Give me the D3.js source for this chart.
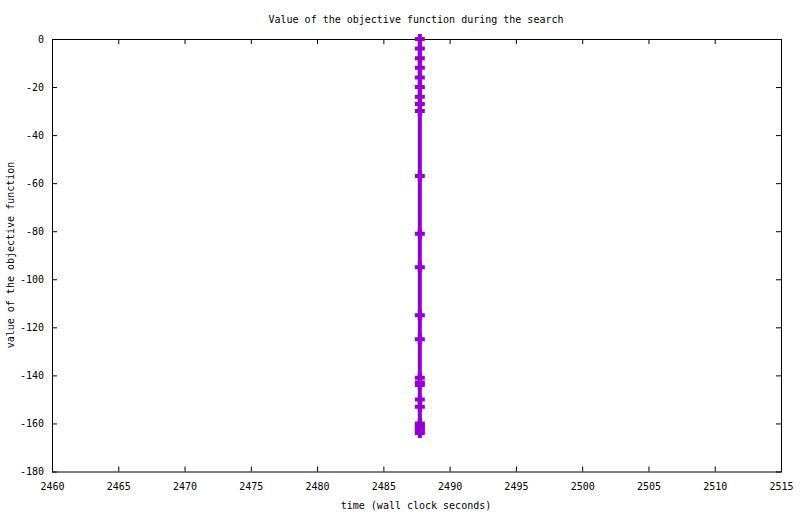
<!DOCTYPE html>
<html>
<head>
<meta charset="utf-8">
<script src="https://cdn.jsdelivr.net/npm/d3@7"></script>
<style>
  body { margin: 0; background: #fff; }
  svg text { font-family: "DejaVu Sans Mono", monospace; font-size: 10px; fill: #000; }
</style>
</head>
<body>
<script>
// data: one search run, all points logged at the same wall clock time
const runTime = 2487.75;
const objValues = [0, -4, -8, -12, -16, -20, -24, -27, -30, -57, -81, -95,
  -115, -125, -141, -143, -144, -150, -153, -160, -161, -162, -163, -164];
const xTicks = [2460, 2465, 2470, 2475, 2480, 2485, 2490, 2495, 2500, 2505, 2510, 2515];
const yTicks = [0, -20, -40, -60, -80, -100, -120, -140, -160, -180];

const width = 800;
const height = 514;
const pLeft = 52, pRight = 781, pTop = 39, pBottom = 471.5;

const svg = d3.select("body").append("svg")
  .attr("width", width)
  .attr("height", height);

svg.append("rect").attr("width", width).attr("height", height).attr("fill", "#fff");

const x = d3.scaleLinear().domain([2460, 2515]).range([pLeft, pRight]);
const y = d3.scaleLinear().domain([-180, 0]).range([pBottom, pTop]);

// axes with inward ticks, mirrored on top/right
svg.append("g")
  .attr("transform", "translate(0," + pBottom + ")")
  .call(d3.axisBottom(x).tickValues(xTicks).tickSizeInner(-5).tickSizeOuter(0).tickPadding(11)
    .tickFormat(d => String(d)))
  .call(g => g.select(".domain").remove());

svg.append("g")
  .attr("transform", "translate(0," + pTop + ")")
  .call(d3.axisTop(x).tickValues(xTicks).tickSizeInner(-5).tickSizeOuter(0).tickFormat(""))
  .call(g => g.select(".domain").remove());

svg.append("g")
  .attr("transform", "translate(" + pLeft + ",0)")
  .call(d3.axisLeft(y).tickValues(yTicks).tickSizeInner(-5).tickSizeOuter(0).tickPadding(8)
    .tickFormat(d => String(d)))
  .call(g => g.select(".domain").remove());

svg.append("g")
  .attr("transform", "translate(" + pRight + ",0)")
  .call(d3.axisRight(y).tickValues(yTicks).tickSizeInner(-5).tickSizeOuter(0).tickFormat(""))
  .call(g => g.select(".domain").remove());

svg.selectAll(".tick line").attr("stroke", "#000");
svg.selectAll(".tick text").style("font-family", "DejaVu Sans Mono, monospace").style("font-size", "10px");

// frame
svg.append("rect")
  .attr("x", pLeft + 0.5).attr("y", pTop + 0.5)
  .attr("width", pRight - pLeft).attr("height", pBottom - pTop)
  .attr("fill", "none").attr("stroke", "#000").attr("stroke-width", 1);

// series
const pts = objValues.map(v => [runTime, v]);
const purple = "#9400d3";

svg.append("path")
  .datum(pts)
  .attr("fill", "none")
  .attr("stroke", purple)
  .attr("stroke-width", 4)
  .attr("d", d3.line().x(d => x(d[0])).y(d => y(d[1])));

svg.selectAll(".pt")
  .data(pts)
  .enter()
  .append("path")
  .attr("class", "pt")
  .attr("transform", d => "translate(" + x(d[0]) + "," + y(d[1]) + ")")
  .attr("d", "M-5,0H5M0,-5V5")
  .attr("stroke", purple)
  .attr("stroke-width", 4)
  .attr("fill", "none");

// titles
svg.append("text")
  .attr("x", 416).attr("y", 23)
  .attr("text-anchor", "middle")
  .text("Value of the objective function during the search");

svg.append("text")
  .attr("x", 416).attr("y", 509)
  .attr("text-anchor", "middle")
  .text("time (wall clock seconds)");

svg.append("text")
  .attr("transform", "translate(14,255) rotate(-90)")
  .attr("text-anchor", "middle")
  .text("value of the objective function");
</script>
</body>
</html>
